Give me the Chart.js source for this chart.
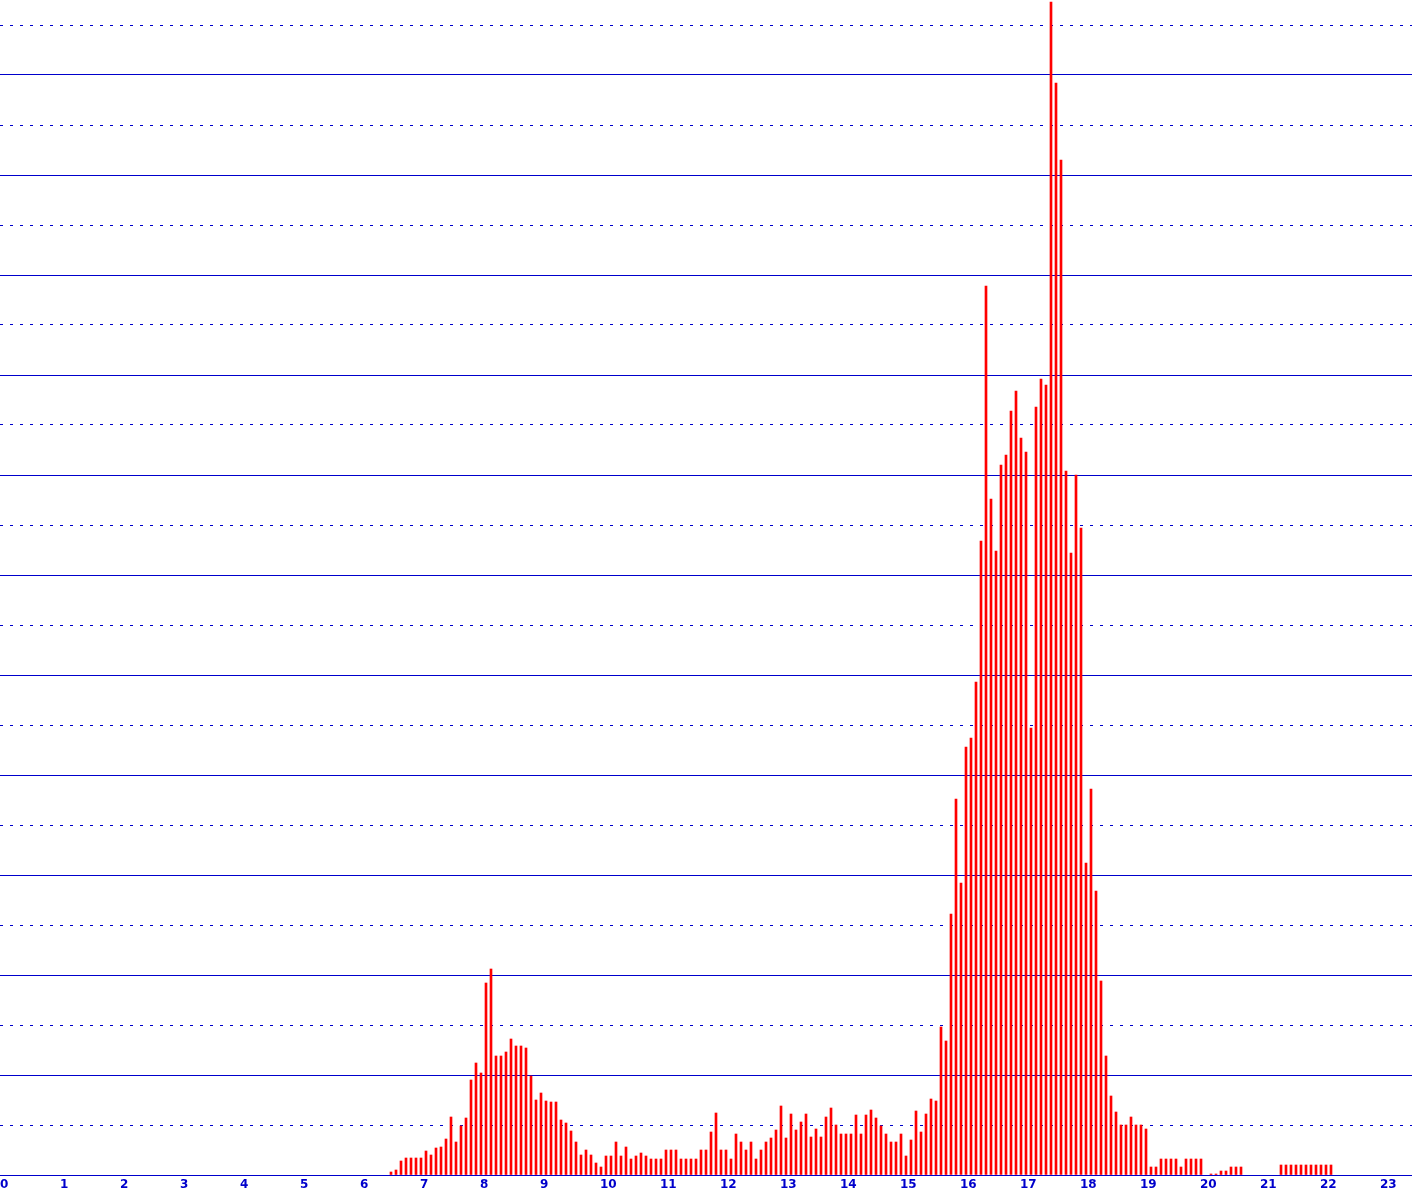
<!DOCTYPE html>
<html>
<head>
<meta charset="utf-8">
<script src="https://cdn.jsdelivr.net/npm/chart.js@4.4.1/dist/chart.umd.min.js"></script>
<style>
  html, body { margin: 0; padding: 0; background: #ffffff; }
  #wrap { width: 1412px; height: 1195px; }
</style>
</head>
<body>
<div id="wrap"><canvas id="grafica" width="1412" height="1195"></canvas></div>
<script>
// Etiquetas de las horas en el eje X
const etiquetasHora = ['0', '1', '2', '3', '4', '5', '6', '7', '8', '9', '10', '11',
  '12', '13', '14', '15', '16', '17', '18', '19', '20', '21', '22', '23'];

// Minutos por intervalo (barras cada 5 minutos)
const minutosIntervalo = 5;

// Valores por intervalo de 5 minutos, una fila por hora
const valores = [
  0, 0, 0, 0, 0, 0, 0, 0, 0, 0, 0, 0,                               // 0
  0, 0, 0, 0, 0, 0, 0, 0, 0, 0, 0, 0,                               // 1
  0, 0, 0, 0, 0, 0, 0, 0, 0, 0, 0, 0,                               // 2
  0, 0, 0, 0, 0, 0, 0, 0, 0, 0, 0, 0,                               // 3
  0, 0, 0, 0, 0, 0, 0, 0, 0, 0, 0, 0,                               // 4
  0, 0, 0, 0, 0, 0, 0, 0, 0, 0, 0, 0,                               // 5
  0, 0, 0, 0, 0, 0, 0.3, 0.5, 1.4, 1.7, 1.7, 1.7,                   // 6
  1.7, 2.4, 2.0, 2.7, 2.8, 3.6, 5.8, 3.3, 4.9, 5.7, 9.5, 11.2,      // 7
  10.2, 19.2, 20.6, 11.9, 11.9, 12.3, 13.6, 12.9, 12.9, 12.7, 9.9, 7.5, // 8
  8.2, 7.4, 7.3, 7.3, 5.5, 5.2, 4.4, 3.3, 2.0, 2.5, 2.0, 1.2,       // 9
  0.8, 1.9, 1.9, 3.3, 1.9, 2.8, 1.6, 1.9, 2.2, 1.9, 1.6, 1.6,       // 10
  1.6, 2.5, 2.5, 2.5, 1.6, 1.6, 1.6, 1.6, 2.5, 2.5, 4.3, 6.2,       // 11
  2.5, 2.5, 1.6, 4.1, 3.3, 2.5, 3.3, 1.6, 2.5, 3.3, 3.7, 4.5,       // 12
  6.9, 3.7, 6.1, 4.5, 5.3, 6.1, 3.8, 4.6, 3.8, 5.8, 6.7, 5.0,       // 13
  4.1, 4.1, 4.1, 6.0, 4.1, 6.0, 6.5, 5.7, 4.9, 4.1, 3.3, 3.3,       // 14
  4.1, 1.9, 3.5, 6.4, 4.3, 6.1, 7.6, 7.4, 14.8, 13.4, 26.1, 37.6,   // 15
  29.2, 42.8, 43.7, 49.3, 63.4, 88.9, 67.6, 62.4, 71.0, 72.0, 76.4, 78.4, // 16
  73.7, 72.3, 44.7, 76.8, 79.6, 79.0, 117.3, 109.2, 101.5, 70.4, 62.2, 70.0, // 17
  64.7, 31.2, 38.6, 28.4, 19.4, 11.9, 7.9, 6.3, 5.0, 5.0, 5.8, 5.0, // 18
  5.0, 4.6, 0.8, 0.8, 1.6, 1.6, 1.6, 1.6, 0.8, 1.6, 1.6, 1.6,       // 19
  1.6, 0, 0.1, 0.1, 0.4, 0.4, 0.8, 0.8, 0.8, 0, 0, 0,               // 20
  0, 0, 0, 0, 1.0, 1.0, 1.0, 1.0, 1.0, 1.0, 1.0, 1.0,               // 21
  1.0, 1.0, 1.0, 0, 0, 0, 0, 0, 0, 0, 0, 0,                         // 22
  0, 0, 0, 0, 0, 0, 0, 0, 0, 0, 0, 0                                // 23
];

// Escala vertical: máximo visible y separación de la rejilla
const maxY = 117.5;
const pasoRejilla = 5;

const AZUL = '#0000cc';
const ROJO = '#ff0000';

// Los intervalos sin datos no se dibujan
const puntos = valores.map((v, i) => ({ x: i * minutosIntervalo, y: v > 0 ? v : null }));

function esLineaSolida(ctx) {
  return ctx.tick && Math.round(ctx.tick.value) % (pasoRejilla * 2) === 0;
}

new Chart(document.getElementById('grafica'), {
  type: 'bar',
  data: {
    datasets: [{
      data: puntos,
      backgroundColor: ROJO,
      borderWidth: 0,
      barThickness: 2
    }]
  },
  options: {
    responsive: false,
    animation: false,
    layout: { padding: 0 },
    plugins: {
      legend: { display: false },
      tooltip: { enabled: false }
    },
    scales: {
      x: {
        type: 'linear',
        offset: false,
        min: -1,
        max: 1411,
        grid: { display: false, drawTicks: false, offset: false },
        border: { display: true, color: AZUL, width: 1 },
        ticks: {
          stepSize: 60,
          includeBounds: false,
          autoSkip: false,
          maxRotation: 0,
          align: 'start',
          labelOffset: -1,
          padding: 3,
          color: AZUL,
          font: { family: 'DejaVu Sans', size: 12, weight: 'bold' },
          callback: (v) => etiquetasHora[Math.round(v / 60)]
        },
        afterFit: (scale) => {
          scale.height = 20;
          scale.paddingLeft = 0;
          scale.paddingRight = 0;
        }
      },
      y: {
        min: 0,
        max: maxY,
        ticks: { display: false, stepSize: pasoRejilla, includeBounds: false },
        grid: {
          drawTicks: false,
          color: AZUL,
          lineWidth: 1,
          borderDash: (ctx) => esLineaSolida(ctx) ? [] : [3, 7]
        },
        border: {
          display: false,
          dash: (ctx) => (ctx.tick && !esLineaSolida(ctx)) ? [3, 7] : []
        },
        afterFit: (scale) => { scale.width = 0; }
      }
    }
  }
});
</script>
</body>
</html>
